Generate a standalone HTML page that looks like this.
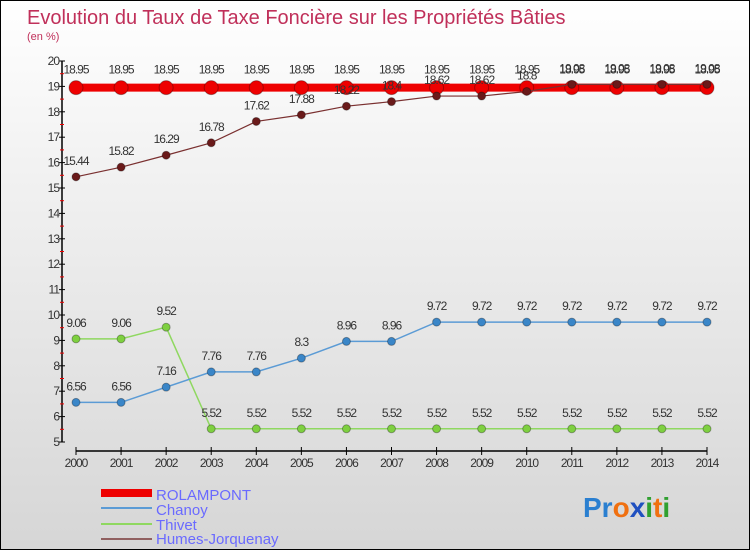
<!DOCTYPE html>
<html><head><meta charset="utf-8"><style>
body{margin:0;}
#c{width:750px;height:550px;position:relative;box-sizing:border-box;border:1px solid #000;background:linear-gradient(#fff 0%,#f2f2f2 30%,#d6d6d6 100%);font-family:"Liberation Sans",sans-serif;overflow:hidden}
text{font-family:"Liberation Sans",sans-serif}
</style></head><body>
<div id="c">
<svg id="s" width="750" height="550">
<text x="26" y="23" font-size="20" fill="#c0305a">Evolution du Taux de Taxe Foncière sur les Propriétés Bâties</text>
<text x="26" y="39" font-size="11" fill="#c0305a">(en %)</text>
<g id="axes"></g><g id="series"></g>
<g>
<rect x="100" y="488" width="51" height="8" fill="#e00"/>
<text x="155" y="499" font-size="15" fill="#6a6aff">ROLAMPONT</text>
<rect x="100" y="506" width="51" height="2" fill="#5b9bd5"/>
<text x="155" y="514" font-size="15" fill="#6a6aff">Chanoy</text>
<rect x="100" y="522" width="51" height="2" fill="#8fd860"/>
<text x="155" y="529" font-size="15" fill="#6a6aff">Thivet</text>
<rect x="100" y="537" width="51" height="2" fill="#906060"/>
<text x="155" y="543" font-size="15" fill="#6a6aff">Humes-Jorquenay</text>
</g>
<text x="582" y="516" font-size="28" font-weight="bold"><tspan fill="#2a7fd0">Pr</tspan><tspan fill="#f07010">o</tspan><tspan fill="#2050c0">x</tspan><tspan fill="#30a030">i</tspan><tspan fill="#f07010">t</tspan><tspan fill="#30a030">i</tspan></text>
</svg></div>
<script>
const years=[2000,2001,2002,2003,2004,2005,2006,2007,2008,2009,2010,2011,2012,2013,2014];
const yTicks=[5,6,7,8,9,10,11,12,13,14,15,16,17,18,19,20];
const rolampont=[18.95,18.95,18.95,18.95,18.95,18.95,18.95,18.95,18.95,18.95,18.95,18.95,18.95,18.95,18.95];
const chanoy=[6.56,6.56,7.16,7.76,7.76,8.3,8.96,8.96,9.72,9.72,9.72,9.72,9.72,9.72,9.72];
const thivet=[9.06,9.06,9.52,5.52,5.52,5.52,5.52,5.52,5.52,5.52,5.52,5.52,5.52,5.52,5.52];
const humes=[15.44,15.82,16.29,16.78,17.62,17.88,18.22,18.4,18.62,18.62,18.8,19.08,19.08,19.08,19.08];
const NS='http://www.w3.org/2000/svg';
const X=i=>75+i*(706-75)/(years.length-1);
const Y=v=>441-(v-5)*(441-60)/15;
function mk(t,a,p){const e=document.createElementNS(NS,t);for(const k in a)e.setAttribute(k,a[k]);p.appendChild(e);return e;}
const ax=document.getElementById('axes'),sg=document.getElementById('series');
let yl=mk('line',{x1:61,y1:60,x2:61,y2:441,stroke:'#000','stroke-width':1.5},ax);


yTicks.forEach((v,k)=>{
 const t=mk('line',{x1:58,x2:64,y1:Y(v),y2:Y(v),stroke:'#000'},ax);
 
 
 if(k>0){
  const m=mk('line',{x1:59,x2:63,y1:Y(v)+12.7,y2:Y(v)+12.7,stroke:'#e00'},ax);
  
  
 }
 const l=mk('text',{x:58,y:Y(v)+4,'font-size':12,'text-anchor':'end',fill:'#333','letter-spacing':'-1'},ax);
 l.textContent=v;
 
 
});
const xl=mk('line',{x1:75,y1:450,x2:706,y2:450,stroke:'#000','stroke-width':1.5},ax);


years.forEach((y,i)=>{
 const t=mk('line',{x1:X(i),x2:X(i),y1:446,y2:454,stroke:'#000'},ax);
 
 
 const l=mk('text',{x:X(i),y:466,'font-size':12,'text-anchor':'middle',fill:'#333','letter-spacing':'-1'},ax);
 l.textContent=y;
 
 
});
function series(name,vals,color,lw,r,fill,dy){
 const g=mk('g',{},sg);
 
 
 const p=mk('polyline',{points:vals.map((v,i)=>X(i)+','+Y(v)).join(' '),fill:'none',stroke:color,'stroke-width':lw},g);
 
 
 vals.forEach((v,i)=>{
  const c=mk('circle',{cx:X(i),cy:Y(v),r:r,fill:fill,stroke:'rgba(0,0,0,0.3)'},g);
  
  
  const t=mk('text',{x:X(i),y:Y(v)+dy,'font-size':12,'text-anchor':'middle',fill:'#333','letter-spacing':'-1'},g);
  t.textContent=v;
  
  
 });
}
series('rolampont',rolampont,'#e00',8,7,'#e00',-14);
series('thivet',thivet,'#8fd860',1.5,4,'#7ed040',-12);
series('chanoy',chanoy,'#5b9bd5',1.5,4,'#3a86c8',-12);
series('humes',humes,'#7a3030',1.2,4,'#6a1a1a',-12);
</script>
</body></html>
